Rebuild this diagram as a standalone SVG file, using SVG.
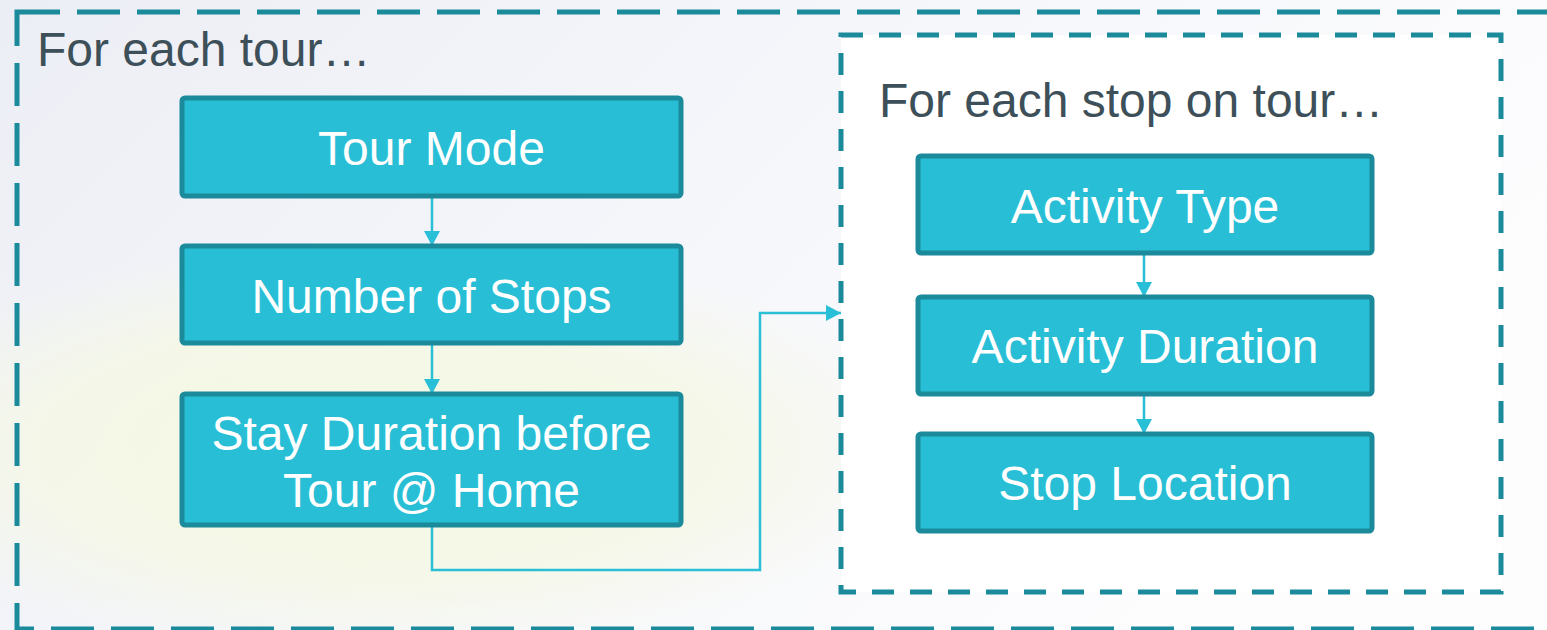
<svg xmlns="http://www.w3.org/2000/svg" width="1547" height="630" viewBox="0 0 1547 630">
<defs>
<linearGradient id="bg" x1="0" y1="0" x2="1" y2="0.4">
<stop offset="0" stop-color="#eceef5"/>
<stop offset="0.55" stop-color="#f6f7fb"/>
<stop offset="1" stop-color="#fdfdfe"/>
</linearGradient>
<radialGradient id="glow" cx="0.5" cy="0.5" r="0.5">
<stop offset="0" stop-color="#f5f8e2"/>
<stop offset="0.6" stop-color="#f5f8e5" stop-opacity="0.85"/>
<stop offset="1" stop-color="#f5f7e8" stop-opacity="0"/>
</radialGradient>
<marker id="arr" markerUnits="userSpaceOnUse" markerWidth="16" markerHeight="16" refX="15" refY="8" orient="auto">
<path d="M0,0 L15,8 L0,16 z" fill="#29bfd6"/>
</marker>
<style>
.box{fill:#28bed5;stroke:#1b8a9b;stroke-width:5}
.lbl{font-family:'Liberation Sans',Arial,sans-serif;font-size:48px;fill:#ffffff;text-anchor:middle}
.hdr{font-family:'Liberation Sans',Arial,sans-serif;font-size:48px;fill:#3d4f58}
.conn{fill:none;stroke:#29bfd6;stroke-width:2.5;marker-end:url(#arr)}
.outer{fill:none;stroke:#1b8a9b;stroke-width:5;stroke-dasharray:43 17}
.inner{fill:#ffffff;stroke:#1b8a9b;stroke-width:5;stroke-dasharray:22 16}
</style>
</defs>
<rect x="0" y="0" width="1547" height="630" fill="url(#bg)"/>
<ellipse cx="380" cy="450" rx="560" ry="210" fill="url(#glow)"/>
<g id="outer-frame">
<rect class="outer" x="17" y="12" width="1560" height="617"/>
<text class="hdr" x="37" y="66">For each tour…</text>
</g>
<g id="inner-frame">
<rect class="inner" x="841" y="35" width="660" height="557"/>
<text class="hdr" x="879" y="117">For each stop on tour…</text>
</g>
<g id="connectors">
<path class="conn" d="M432,198 V246"/>
<path class="conn" d="M432,345 V394"/>
<path class="conn" d="M432,525 V570 H760 V313 H841"/>
<path class="conn" d="M1144,255 V297"/>
<path class="conn" d="M1144,396 V434"/>
</g>
<g id="tour-mode">
<rect class="box" x="182" y="98" width="499" height="98" rx="3"/>
<text class="lbl" x="431.5" y="165">Tour Mode</text>
</g>
<g id="number-of-stops">
<rect class="box" x="182" y="246" width="499" height="97" rx="3"/>
<text class="lbl" x="431.5" y="313">Number of Stops</text>
</g>
<g id="stay-duration">
<rect class="box" x="182" y="394" width="499" height="131" rx="3"/>
<text class="lbl" x="431.5" y="450">Stay Duration before</text>
<text class="lbl" x="431.5" y="507">Tour @ Home</text>
</g>
<g id="activity-type">
<rect class="box" x="918" y="156" width="454" height="97" rx="3"/>
<text class="lbl" x="1145" y="223">Activity Type</text>
</g>
<g id="activity-duration">
<rect class="box" x="918" y="297" width="454" height="97" rx="3"/>
<text class="lbl" x="1145" y="363">Activity Duration</text>
</g>
<g id="stop-location">
<rect class="box" x="918" y="434" width="454" height="97" rx="3"/>
<text class="lbl" x="1145" y="500">Stop Location</text>
</g>
</svg>
